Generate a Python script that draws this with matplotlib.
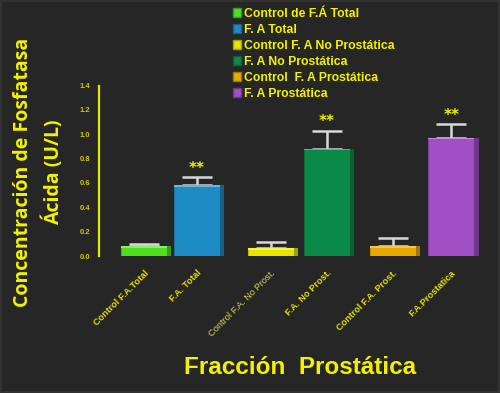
import matplotlib
matplotlib.use("Agg")
import matplotlib.pyplot as plt
import matplotlib.colors as mcolors
from matplotlib.patches import Patch

categories = ["Control F.A.Total", "F.A. Total", "Control F.A. No Prost.",
              "F.A. No Prost.", "Control F.A. Prost.", "F.A.Prostatica"]
legend_labels = ["Control de F.Á Total", "F. A Total", "Control F. A No Prostática",
                 "F. A No Prostática", "Control  F. A Prostática", "F. A Prostática"]
values = [0.08, 0.58, 0.065, 0.88, 0.08, 0.97]
errors = [0.02, 0.07, 0.05, 0.15, 0.07, 0.11]
stars = ["", "**", "", "**", "", "**"]
positions = [0, 1, 2.4, 3.45, 4.7, 5.8]
colors = ["#4ee01e", "#1e8cc4", "#e6e600", "#0a8a48", "#e8aa00", "#a050c4"]
yticks = [0.0, 0.2, 0.4, 0.6, 0.8, 1.0, 1.2, 1.4]

BG = "#262626"
YEL = "#f2f200"

fig = plt.figure(figsize=(5.0, 3.93), dpi=100, facecolor=BG,
                 edgecolor="#323232", linewidth=1.5)
ax = fig.add_axes([0.198, 0.3486, 0.782, 0.4338])
ax.set_facecolor(BG)

w = 0.87
d = 0.08
def darker(c, f=0.7):
    r, g, b = mcolors.to_rgb(c)
    return (r * f, g * f, b * f)
def lighter(c, f=0.35):
    r, g, b = mcolors.to_rgb(c)
    return (r + (1 - r) * f, g + (1 - g) * f, b + (1 - b) * f)

side_x = [p + w / 2 + d / 2 for p in positions]
ax.bar(positions, values, width=w, color=colors, edgecolor=[darker(c, 0.8) for c in colors],
       linewidth=0.8, zorder=3)
ax.bar(side_x, values, width=d, color=[darker(c) for c in colors], zorder=3)
ax.bar(positions, [0.012] * len(values), bottom=[v - 0.012 for v in values], width=w,
       color=[lighter(c) for c in colors], zorder=4)
ax.errorbar(positions, values, yerr=[[0] * len(errors), errors], fmt="none",
            ecolor="#d8d8d8", elinewidth=1.8, capsize=11, capthick=1.8, zorder=2)
for p, v, e, s in zip(positions, values, errors, stars):
    if s:
        ax.text(p, v + e + 0.01, s, ha="center", va="bottom", color=YEL,
                fontsize=11, fontweight="bold", zorder=5)

ax.set_xlim(-0.85, 6.53)
ax.set_ylim(0, 1.4)
ax.set_yticks(yticks)
ax.set_yticklabels([f"{t:.1f}" for t in yticks], fontsize=5.5, fontweight="bold",
                   color="#c8c800", family="Liberation Sans")
ax.tick_params(axis="y", length=0, pad=6)
ax.set_xticks(positions)
ax.set_xticklabels(categories, rotation=45, ha="right", rotation_mode="anchor",
                   fontsize=6.7, fontweight="bold", color="#e0e000", family="Liberation Sans")
lbls = ax.get_xticklabels()
lbls[2].set_fontweight("normal")
lbls[2].set_color("#d8d850")
ax.tick_params(axis="x", length=0, pad=9)
for sp in ["top", "right", "bottom"]:
    ax.spines[sp].set_visible(False)
ax.spines["left"].set_color("#e6e600")
ax.spines["left"].set_linewidth(1.6)

fig.text(0.077, 1 - 172 / 393, "Concentración de Fosfatasa\nÁcida (U/L)", rotation=90,
         ha="center", va="center", multialignment="center", color=YEL, fontsize=14,
         fontweight="bold", family="Open Sans", linespacing=1.55)
fig.text(0.6, 1 - 368 / 393, "Fracción  Prostática", ha="center", va="center",
         color=YEL, fontsize=17.5, fontweight="bold", family="Liberation Sans")

handles = [Patch(facecolor=c, edgecolor=darker(c)) for c in colors]
leg = fig.legend(handles, legend_labels, loc="upper left", bbox_to_anchor=(0.443, 1.008),
                 frameon=False, handlelength=0.7, handleheight=0.7, handletextpad=0.2,
                 labelspacing=0.33, prop={"family": "Liberation Sans", "weight": "bold", "size": 8.8})
for t in leg.get_texts():
    t.set_color(YEL)

fig.savefig("out.png", dpi=100, facecolor=BG, edgecolor=fig.get_edgecolor())
